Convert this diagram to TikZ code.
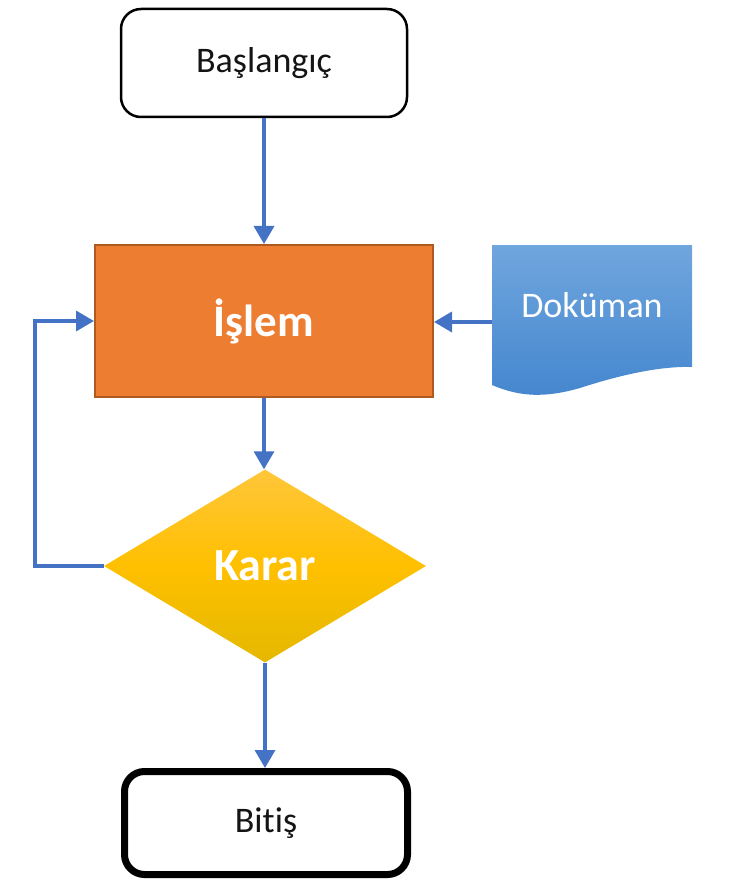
\documentclass[tikz,border=0pt]{standalone}
\usepackage{fontspec}
\setmainfont{Carlito}[Ligatures=CommonOff]
\usetikzlibrary{arrows.meta,shapes.geometric}
\definecolor{arrowblue}{RGB}{68,114,196}
\definecolor{procorange}{RGB}{237,125,49}
\definecolor{procborder}{RGB}{174,90,33}
\definecolor{doctop}{RGB}{112,166,222}
\definecolor{docbot}{RGB}{68,134,206}
\definecolor{dectop}{RGB}{255,198,58}
\definecolor{decmid}{RGB}{255,192,0}
\definecolor{decbot}{RGB}{228,184,0}
\definecolor{txtdark}{RGB}{20,20,20}
\tikzset{
  conn/.style={draw=arrowblue, line width=3.5pt, -{Triangle[length=18pt,width=20pt]}},
  termbox/.style={draw=black, rounded corners=20pt, fill=white, text=txtdark,
    font=\fontsize{36}{40}\selectfont, inner sep=0pt},
  procbox/.style={draw=procborder, line width=2pt, fill=procorange, text=white,
    font=\fontsize{45}{50}\selectfont\bfseries, inner sep=0pt,
    minimum width=338pt, minimum height=152pt},
  decbox/.style={diamond, top color=dectop, bottom color=decbot, middle color=decmid,
    draw=none, text=white, font=\fontsize{46}{50}\selectfont\bfseries, inner sep=0pt,
    minimum width=322pt, minimum height=193pt},
  doctext/.style={text=white, font=\fontsize{36}{40}\selectfont, inner sep=0pt},
}
\begin{document}
\begin{tikzpicture}[x=1pt,y=-1pt]
\useasboundingbox (0,0) rectangle (732,885);
% nodes
\node[termbox, line width=2.5pt, minimum width=286pt, minimum height=108pt] (start) at (264,63) {\raisebox{-3pt}{Başlangıç}};
\node[procbox] (isl) at (264,321) {İşlem};
\node[decbox] (kar) at (265,566) {Karar};
\node[termbox, line width=7pt, minimum width=283pt, minimum height=103pt] (end) at (266,823) {\raisebox{-4pt}{Bitiş}};
% document shape
\shade[top color=doctop, bottom color=docbot]
  (492,245) -- (692,245) -- (692,367)
  .. controls (660,366) and (620,375) .. (580,388)
  .. controls (545,398) and (520,397) .. (492,385) -- cycle;
\node[minimum width=200pt, minimum height=154pt, inner sep=0pt] (doc) at (592,322) {};
\node[doctext] (doclabel) at (592,305) {Doküman};
\coordinate (loopc) at (35,450);
% connectors
\draw[conn] (start.south) -- (start.south |- isl.north);
\draw[conn] (doc.west) -- (doc.west -| isl.east);
\draw[conn] (isl.south) -- (isl.south |- kar.north);
\draw[conn] (kar.south) -- (kar.south |- end.north);
\draw[conn] (kar.west) -| (loopc) |- (isl.west);
\end{tikzpicture}
\end{document}
